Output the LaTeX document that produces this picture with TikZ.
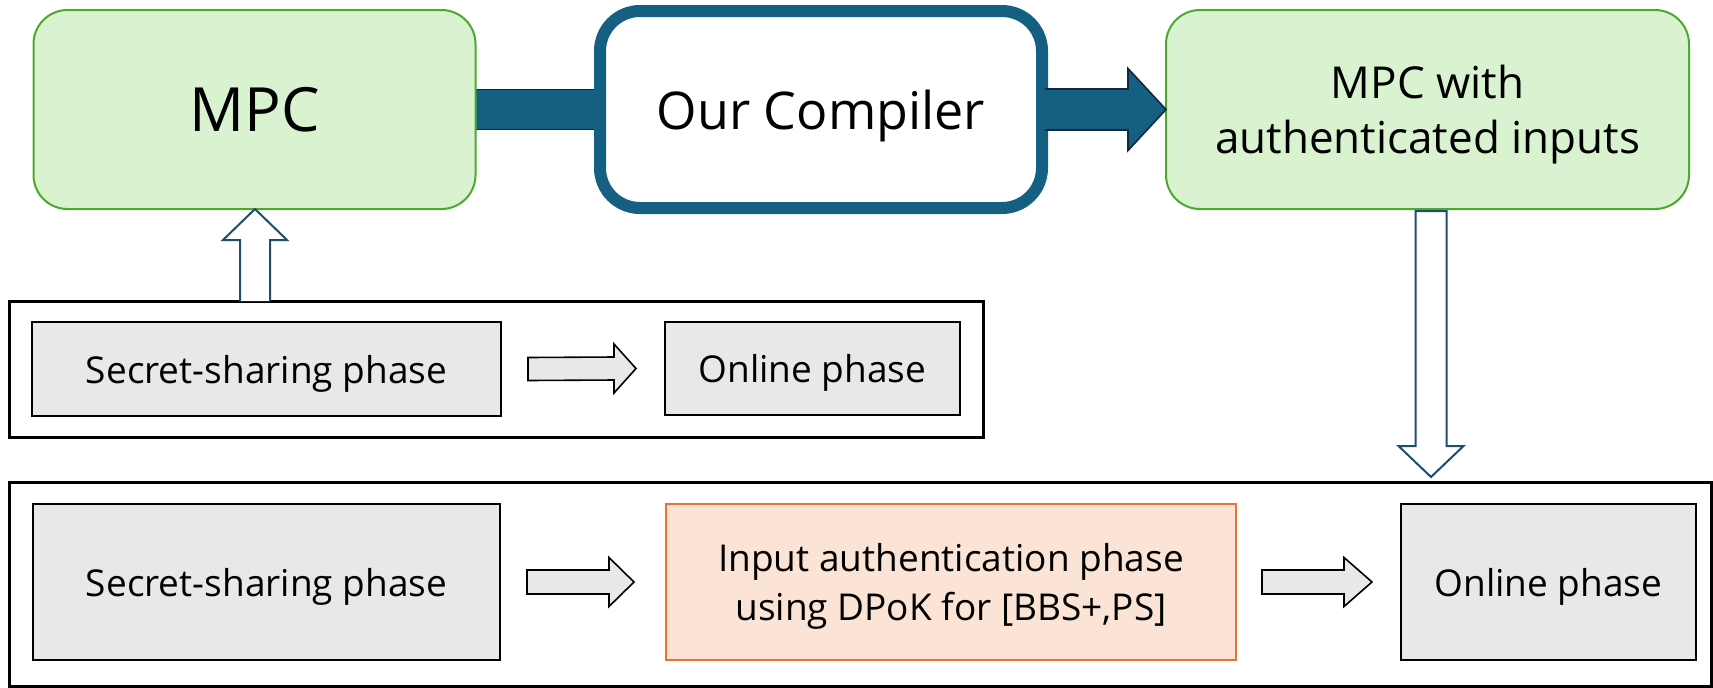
\documentclass[tikz,border=0pt]{standalone}
\usepackage{fontspec}
\setmainfont{Open Sans}
\usetikzlibrary{calc,backgrounds}

\definecolor{mpcfill}{HTML}{D9F2D0}
\definecolor{mpcline}{HTML}{4EA72E}
\definecolor{navy}{HTML}{156082}
\definecolor{navydark}{HTML}{0E2841}
\definecolor{hollowline}{HTML}{1B4F6B}
\definecolor{phasefill}{HTML}{E8E8E8}
\definecolor{authfill}{HTML}{FBE3D6}
\definecolor{authline}{HTML}{E97132}

\tikzset{
  greenbox/.style={draw=mpcline, fill=mpcfill, line width=1pt, rounded corners=17pt,
    inner sep=0pt, outer sep=0pt, align=center, text depth=0pt},
  compbox/.style={draw=navy, fill=white, line width=6pt, rounded corners=20pt,
    inner sep=0pt, outer sep=0pt, align=center, text depth=0pt},
  framebox/.style={draw=black, line width=1.5pt, inner sep=0pt, outer sep=0pt},
  phasebox/.style={draw=black, fill=phasefill, line width=0.8pt, inner sep=0pt,
    outer sep=0pt, align=center, text depth=0pt, font=\fontsize{18.5}{24.5}\selectfont},
  authbox/.style={phasebox, draw=authline, fill=authfill},
  hollow/.style={draw=hollowline, fill=white, line width=1pt, line join=miter},
  phasearrow/.style={draw=black, fill=phasefill, line width=0.8pt, line join=miter},
  band/.style={fill=navy},
  bandedge/.style={draw=navydark, line width=0.8pt},
}

\begin{document}
\begin{tikzpicture}[x=0.5pt, y=-0.5pt]
\useasboundingbox (0,0) rectangle (1713,687);

% top row
\node[greenbox, minimum width=221pt, minimum height=99.5pt,
      font=\fontsize{30.5}{36}\selectfont] (mpc) at (254.5,109.5) {MPC};
\node[compbox, minimum width=221pt, minimum height=98.5pt,
      font=\fontsize{26}{32}\selectfont] (comp) at (821,109.5) {Our Compiler};
\node[greenbox, minimum width=261.5pt, minimum height=99.5pt,
      font=\fontsize{22}{27.5}\selectfont] (mpcw) at (1427.5,109.5)
      {MPC with\\authenticated inputs};

% plain MPC protocol
\node[framebox, minimum width=487pt, minimum height=68pt] (plain) at (496,369) {};
\node[phasebox, minimum width=234.5pt, minimum height=47pt] (ss1) at (266.5,369) {Secret-sharing phase};
\node[phasebox, minimum width=147.5pt, minimum height=46.5pt] (on1) at (812.5,368.5) {Online phase};

% compiled protocol
\node[framebox, minimum width=851pt, minimum height=102pt] (auth frame) at (860,584) {};
\node[phasebox, minimum width=233.5pt, minimum height=78pt] (ss2) at (266.5,582) {Secret-sharing phase};
\node[authbox, minimum width=285pt, minimum height=78pt] (auth) at (951,582)
      {Input authentication phase\\using DPoK for [BBS+,PS]};
\node[phasebox, minimum width=147.5pt, minimum height=78pt] (on2) at (1548.5,582) {Online phase};

% thick band MPC -> compiler
\begin{scope}[on background layer]
  \fill[band] ($(mpc.east)+(0,-20)$) rectangle ($(comp.west)+(0,20)$);
  \draw[bandedge] ($(mpc.east)+(0,-20)$) -- ($(comp.west)+(0,-20)$)
                  ($(mpc.east)+(0,20)$) -- ($(comp.west)+(0,20)$);
\end{scope}

% thick arrow compiler -> MPC with authenticated inputs
\fill[band] ($(comp.east)+(3,-20.5)$) -- ($(mpcw.west)+(-38,-20.5)$) -- ($(mpcw.west)+(-38,-41)$)
  -- (mpcw.west) -- ($(mpcw.west)+(-38,41)$) -- ($(mpcw.west)+(-38,20.5)$)
  -- ($(comp.east)+(3,20.5)$) -- cycle;
\draw[bandedge, line join=miter] ($(comp.east)+(3,-20.5)$) -- ($(mpcw.west)+(-38,-20.5)$) -- ($(mpcw.west)+(-38,-41)$)
  -- (mpcw.west) -- ($(mpcw.west)+(-38,41)$) -- ($(mpcw.west)+(-38,20.5)$)
  -- ($(comp.east)+(3,20.5)$);

% hollow arrow: plain protocol up to MPC
\coordinate (upx) at (255,0);
\coordinate (uptip) at (mpc.south -| upx);
\coordinate (upfoot) at (plain.north -| upx);
\draw[hollow] ($(upfoot)+(-15,0)$) -- ($(uptip)+(-15,31)$) -- ($(uptip)+(-32,31)$) -- (uptip)
  -- ($(uptip)+(32,31)$) -- ($(uptip)+(15,31)$) -- ($(upfoot)+(15,0)$);

% hollow arrow: authenticated MPC down to compiled protocol
\coordinate (dnx) at (1431,0);
\coordinate (dntop) at ($(mpcw.south -| dnx)+(0,2)$);
\coordinate (dntip) at ($(auth frame.north -| dnx)+(0,-5)$);
\draw[hollow] ($(dntop)+(-15.5,0)$) -- ($(dntip)+(-15.5,-31)$) -- ($(dntip)+(-32.5,-31)$) -- (dntip)
  -- ($(dntip)+(32.5,-31)$) -- ($(dntip)+(15.5,-31)$) -- ($(dntop)+(15.5,0)$) -- cycle;

% phase arrows
\draw[phasearrow] ($(ss1.east)+(27,-11.5)$) -- ($(on1.west)+(-51,-11.5)$) -- ($(on1.west)+(-51,-24.5)$)
  -- ($(on1.west)+(-29,0)$) -- ($(on1.west)+(-51,24.5)$) -- ($(on1.west)+(-51,11.5)$)
  -- ($(ss1.east)+(27,11.5)$) -- cycle;
\draw[phasearrow] ($(ss2.east)+(27,-12)$) -- ($(auth.west)+(-57,-12)$) -- ($(auth.west)+(-57,-24.5)$)
  -- ($(auth.west)+(-32,0)$) -- ($(auth.west)+(-57,24.5)$) -- ($(auth.west)+(-57,12)$)
  -- ($(ss2.east)+(27,12)$) -- cycle;
\draw[phasearrow] ($(auth.east)+(26,-12)$) -- ($(on2.west)+(-57,-12)$) -- ($(on2.west)+(-57,-24.5)$)
  -- ($(on2.west)+(-29,0)$) -- ($(on2.west)+(-57,24.5)$) -- ($(on2.west)+(-57,12)$)
  -- ($(auth.east)+(26,12)$) -- cycle;
\end{tikzpicture}
\end{document}
